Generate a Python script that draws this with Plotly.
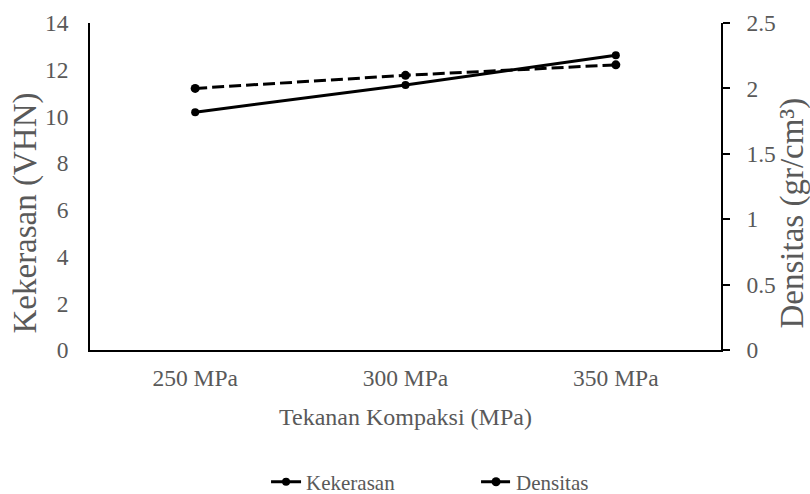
import plotly.graph_objects as go

categories = ["250 MPa", "300 MPa", "350 MPa"]
kekerasan = [10.18, 11.35, 12.62]
densitas = [2.0, 2.1, 2.18]
left_ticks = [0, 2, 4, 6, 8, 10, 12, 14]
right_ticks = [0, 0.5, 1, 1.5, 2, 2.5]
right_tick_text = ["0", "0.5", "1", "1.5", "2", "2.5"]

font_family = "Liberation Serif, Times New Roman, serif"
gray = "#595959"

fig = go.Figure()
fig.add_trace(go.Scatter(
    x=categories, y=kekerasan, name="Kekerasan", mode="lines+markers",
    line=dict(color="black", width=3), marker=dict(color="black", size=8),
))
fig.add_trace(go.Scatter(
    x=categories, y=densitas, name="Densitas", mode="lines+markers",
    line=dict(color="black", width=3, dash="12px,5px"), marker=dict(color="black", size=9),
    yaxis="y2",
))

fig.update_layout(
    width=810, height=494,
    margin=dict(l=90, r=89, t=23, b=144, autoexpand=False),
    plot_bgcolor="white", paper_bgcolor="white",
    font=dict(family=font_family, size=23, color=gray),
    showlegend=True,
    legend=dict(orientation="h", x=0.279, xanchor="left", y=-0.404, yanchor="middle",
                entrywidth=165, entrywidthmode="pixels",
                font=dict(size=21, color=gray)),
    xaxis=dict(
        type="category", range=[-0.5, 2.5], showgrid=False, automargin=False,
        showline=True, linecolor="black", linewidth=1.5, ticks="",
        ticklabelstandoff=6,
        tickfont=dict(size=23.5, color=gray),
    ),
    yaxis=dict(
        range=[0, 14], tickvals=left_ticks, showgrid=False, zeroline=False, automargin=False,
        showline=True, linecolor="black", linewidth=1.5, ticks="",
        ticklabelstandoff=15,
        tickfont=dict(size=23.5, color=gray),
    ),
    yaxis2=dict(
        range=[0, 2.5], tickvals=right_ticks, ticktext=right_tick_text,
        overlaying="y", side="right", showgrid=False, zeroline=False, automargin=False,
        showline=True, linecolor="black", linewidth=1.5,
        ticks="outside", ticklen=7, tickcolor="black", tickwidth=1.5,
        ticklabelstandoff=12,
        tickfont=dict(size=23.5, color=gray),
    ),
    annotations=[
        dict(text="Tekanan Kompaksi (MPa)", xref="paper", yref="paper", x=0.5, y=0,
             xanchor="center", yanchor="middle", yshift=-67, showarrow=False,
             font=dict(size=24, color=gray)),
        dict(text="Kekerasan (VHN)", xref="paper", yref="paper", x=0, y=0.5,
             xanchor="center", yanchor="middle", xshift=-65, yshift=-27, textangle=-90,
             showarrow=False, font=dict(size=33, color=gray)),
        dict(text="Densitas (gr/cm³)", xref="paper", yref="paper", x=1, y=0.5,
             xanchor="center", yanchor="middle", xshift=71, yshift=-27, textangle=-90,
             showarrow=False, font=dict(size=33, color=gray)),
    ],
)

fig.write_html("out.html", config={"displayModeBar": False},
               post_script="document.body.style.margin='0';document.body.style.overflow='hidden';")
